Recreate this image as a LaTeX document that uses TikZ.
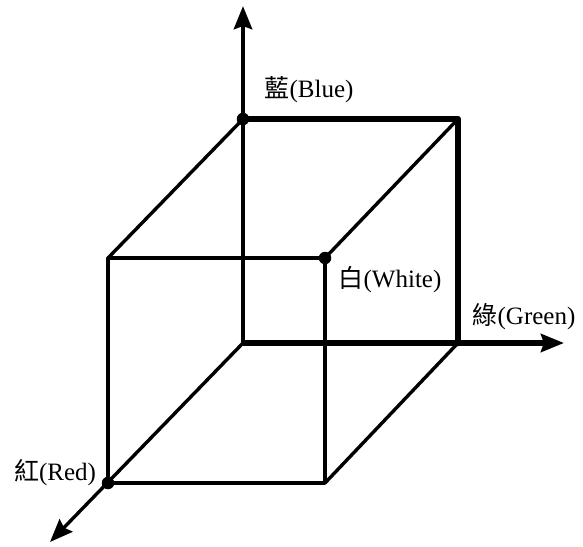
\documentclass[tikz,border=0pt]{standalone}
\usepackage{fontspec}
\setmainfont{Liberation Serif}
\newfontfamily\cjk{Noto Sans CJK TC}
\usetikzlibrary{arrows.meta}
\tikzset{
  thinedge/.style={line width=3.4pt, line cap=round, line join=round},
  thickedge/.style={line width=6.5pt, line cap=round, line join=round},
  axisarrow/.style={-{Stealth[length=23pt,width=18pt,inset=3pt]}},
  vdot/.style={fill=black, circle, inner sep=0pt, minimum size=12.5pt},
  lbl/.style={font=\fontsize{25}{28}\selectfont, inner sep=0pt}
}
\begin{document}
\begin{tikzpicture}[x=1pt,y=-1pt]
\useasboundingbox (0,0) rectangle (583,546);
% cube vertices
\coordinate (O) at (243,343);
\coordinate (B) at (243,119);
\coordinate (G) at (458,343);
\coordinate (BG) at (458,119);
\coordinate (R) at (108,483);
\coordinate (RG) at (325,483);
\coordinate (W) at (325,258);
\coordinate (RB) at (108,258);
% axis tips
\coordinate (Btip) at (243,6);
\coordinate (Gtip) at (564,343);
\coordinate (Rtip) at (50,542);
% axes
\draw[line width=4.8pt, axisarrow] (O) -- (Btip);
\draw[line width=6pt, axisarrow] (O) -- (Gtip);
\draw[thinedge, axisarrow] (O) -- (Rtip);
% front face
\draw[thinedge] (RB) -- (W) -- (RG) -- (R) -- cycle;
% depth edges
\draw[thinedge] (B) -- (RB);
\draw[thinedge] (BG) -- (W);
\draw[thinedge] (G) -- (RG);
% thick back edges
\draw[thickedge] (B) -- (BG) -- (G);
% dots
\node[vdot] (dB) at (B) {};
\node[vdot] (dW) at (W) {};
\node[vdot] (dR) at (R) {};
% labels
\node[lbl] (lB) at (309,90) {{\cjk 藍}(Blue)};
\node[lbl] (lW) at (390,280) {{\cjk 白}(White)};
\node[lbl] (lG) at (524,317) {{\cjk 綠}(Green)};
\node[lbl] (lR) at (55,473) {{\cjk 紅}(Red)};
\end{tikzpicture}
\end{document}
